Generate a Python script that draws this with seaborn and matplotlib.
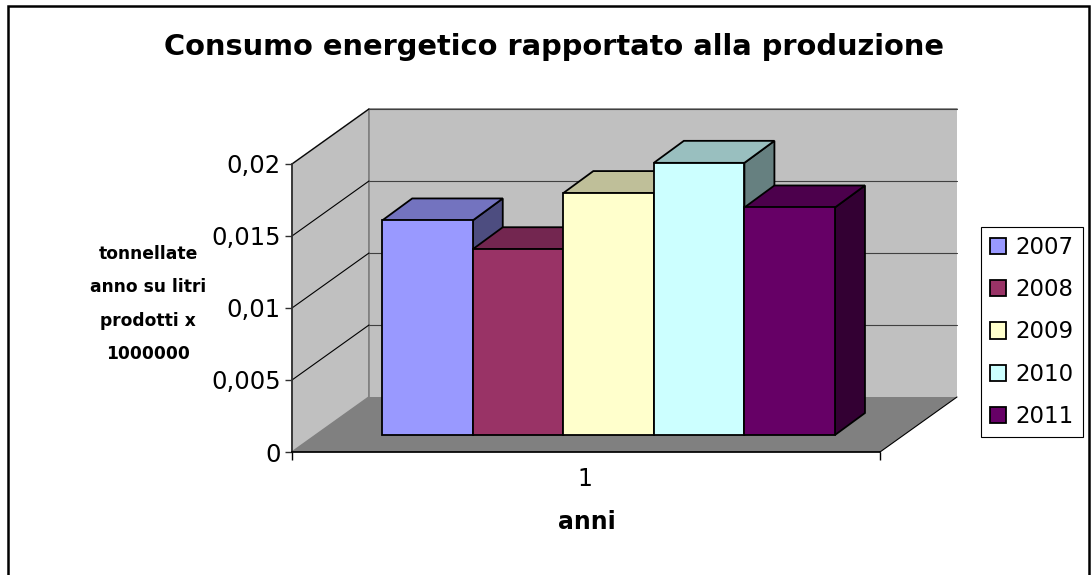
import numpy as np
import pandas as pd
import matplotlib
matplotlib.use("Agg")
import matplotlib.pyplot as plt
from matplotlib.patches import Polygon, Rectangle
from matplotlib.ticker import FuncFormatter
import seaborn as sns

# data
anni = ["2007", "2008", "2009", "2010", "2011"]
consumo = [0.0149, 0.0129, 0.0168, 0.0189, 0.0158]
categoria = ["1", "1", "1", "1", "1"]

col_front = ["#9999FF", "#993366", "#FFFFCC", "#CCFFFF", "#660066"]
col_top = ["#7373BF", "#732650", "#BFBF99", "#99BFBF", "#4C004C"]
col_side = ["#4D4D80", "#4D1A33", "#808066", "#668080", "#330033"]

sns.set_theme(style="white")
plt.rcParams["font.family"] = ["DejaVu Sans"]
plt.rcParams["text.color"] = "black"
plt.rcParams["axes.labelcolor"] = "black"
plt.rcParams["xtick.color"] = "black"
plt.rcParams["ytick.color"] = "black"

W, H = 1091, 575
fig = plt.figure(figsize=(W / 100, H / 100), dpi=100)
# axes = front plane of the 3d box (pixels 292..880, 452..164)
ax = fig.add_axes([292 / W, 1 - 452 / H, 588 / W, 288 / H])
ax.set_facecolor("none")

df = pd.DataFrame({"cat": categoria, "val": consumo, "anno": anni})
sns.barplot(data=df, x="cat", y="val", hue="anno", palette=col_front,
            saturation=1, errorbar=None, edgecolor="black", linewidth=1.3,
            ax=ax, legend=True)

x0, x1 = -0.517, 0.522
ymax = 0.02
ax.set_xlim(x0, x1)
ax.set_ylim(0, ymax)

# pixel -> data units
ux = (x1 - x0) / 588
uy = ymax / 288
DX, DY = 77 * ux, 55 * uy          # full depth of the box
ox, oy = 24 * ux, 17 * uy          # bar front offset
bdx, bdy = 30 * ux, 22 * uy        # bar thickness

# walls and floor
ax.add_patch(Polygon([(x0, 0), (x0 + DX, DY), (x0 + DX, ymax + DY), (x0, ymax)],
                     closed=True, fc="#C0C0C0", ec="#808080", lw=1.2, zorder=0.5, clip_on=False))
ax.add_patch(Polygon([(x0 + DX, DY), (x1 + DX, DY), (x1 + DX, ymax + DY), (x0 + DX, ymax + DY)],
                     closed=True, fc="#C0C0C0", ec="none", zorder=0.5, clip_on=False))
ax.add_patch(Polygon([(x0, 0), (x1, 0), (x1 + DX, DY), (x0 + DX, DY)],
                     closed=True, fc="#808080", ec="none", zorder=0.6, clip_on=False))
ax.plot([x1, x1 + DX], [0, DY], color="black", lw=0.8, zorder=0.7, clip_on=False)
ax.plot([x0 + DX, x1 + DX], [ymax + DY, ymax + DY], color="#808080", lw=1.2, zorder=0.7, clip_on=False)
ax.plot([x0 + DX, x0 + DX], [DY, ymax + DY], color="#808080", lw=1.2, zorder=0.7, clip_on=False)

for v in np.arange(0.005, ymax + 1e-9, 0.005):
    ax.plot([x0, x0 + DX], [v, v + DY], color="black", lw=0.8, zorder=0.8, clip_on=False)
    ax.plot([x0 + DX, x1 + DX], [v + DY, v + DY], color="#404040", lw=0.8, zorder=0.8, clip_on=False)

# turn the flat bars into boxes
for i, cont in enumerate(ax.containers):
    p = cont.patches[0]
    x, w, h = p.get_x() + ox, p.get_width(), p.get_height()
    p.set_x(x)
    p.set_y(oy)
    p.set_zorder(3 + 3 * i + 2)
    p.set_clip_on(False)
    yb, yt = oy, oy + h
    ax.add_patch(Polygon([(x + w, yb), (x + w + bdx, yb + bdy), (x + w + bdx, yt + bdy), (x + w, yt)],
                         closed=True, fc=col_side[i], ec="black", lw=1.3,
                         zorder=3 + 3 * i, clip_on=False))
    ax.add_patch(Polygon([(x, yt), (x + w, yt), (x + w + bdx, yt + bdy), (x + bdx, yt + bdy)],
                         closed=True, fc=col_top[i], ec="black", lw=1.3,
                         zorder=3 + 3 * i + 1, clip_on=False))

# axes
for s in ["top", "right"]:
    ax.spines[s].set_visible(False)
ax.spines["left"].set_color("#303030")
ax.spines["bottom"].set_color("black")
ax.set_yticks(np.arange(0, ymax + 1e-9, 0.005))
ax.yaxis.set_major_formatter(FuncFormatter(lambda v, _: f"{v:g}".replace(".", ",")))
ax.tick_params(axis="y", left=True, length=5, width=1, color="#303030", pad=3,
               labelsize=17.5, labelcolor="black")
ax.set_xticks([0])
ax.set_xticklabels(["1"])
ax.set_xticks([x0, x1], minor=True)
ax.tick_params(axis="x", which="major", length=0, pad=11, labelsize=17, labelcolor="black")
ax.tick_params(axis="x", which="minor", bottom=True, length=6, width=1, color="black")
ax.set_xlabel("anni", fontsize=17, fontweight="bold", va="center", color="black")
ax.xaxis.set_label_coords((587 - 292) / 588, -(522 - 452) / 288)
ax.set_ylabel("")

handles, labels = ax.get_legend_handles_labels()
leg = ax.legend(handles, labels, loc="center", bbox_to_anchor=(1032 / W, 1 - 332 / H),
                bbox_transform=fig.transFigure, fontsize=16.5, frameon=True,
                fancybox=False, framealpha=1, edgecolor="black", handlelength=0.7,
                handleheight=0.7, handletextpad=0.4, labelspacing=0.84, borderpad=0.4)
leg.get_frame().set_linewidth(0.8)
for t in leg.get_texts():
    t.set_color("black")

fig.text(554 / W, 1 - 47 / H, "Consumo energetico rapportato alla produzione",
         ha="center", va="center", fontsize=20.8, fontweight="bold", color="black")
fig.text(148 / W, 1 - 304 / H, "tonnellate\nanno su litri\nprodotti x\n1000000",
         ha="center", va="center", fontsize=12.3, fontweight="bold", linespacing=2.1,
         color="black")

fig.add_artist(Rectangle((8 / W, -0.1), (1089 - 8) / W, 1.1 - 6 / H, transform=fig.transFigure,
                         fill=False, ec="black", lw=1.8))

fig.savefig("out.png", dpi=100)
